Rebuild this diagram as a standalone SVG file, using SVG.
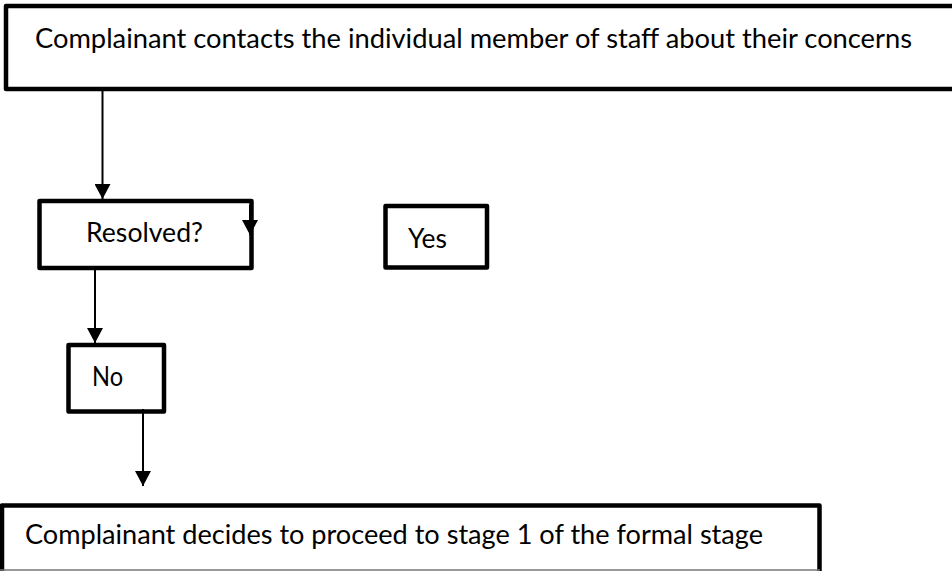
<svg xmlns="http://www.w3.org/2000/svg" width="952" height="571" viewBox="0 0 952 571">
<style>
.box{fill:#fff;stroke:#000;stroke-width:4.5;stroke-linejoin:round}
.lbl{font-family:Lato,"Open Sans","Liberation Sans",sans-serif;font-size:26px;fill:#000}
.conn{stroke:#000;stroke-width:2;fill:none}
</style>
<defs>
<marker id="ah" markerUnits="userSpaceOnUse" markerWidth="16" markerHeight="16" refX="15" refY="8" orient="auto">
<path d="M0,0 L15,8 L0,16 Z" fill="#000"/>
</marker>
</defs>
<rect width="952" height="571" fill="#fff"/>
<g id="node-contact">
<path class="box" d="M952,6 H6 V89 H952"/>
<text class="lbl" x="35" y="48" textLength="877" lengthAdjust="spacingAndGlyphs">Complainant contacts the individual member of staff about their concerns</text>
</g>
<g id="node-resolved">
<rect class="box" x="39.5" y="201" width="212" height="67"/>
<text class="lbl" x="86" y="242" textLength="117" lengthAdjust="spacingAndGlyphs">Resolved?</text>
</g>
<g id="node-yes">
<rect class="box" x="385.5" y="206" width="101.5" height="61.5"/>
<text class="lbl" x="408" y="248" textLength="39" lengthAdjust="spacingAndGlyphs">Yes</text>
</g>
<g id="node-no">
<rect class="box" x="68.5" y="345" width="95.5" height="66.5"/>
<text class="lbl" x="92" y="386" textLength="31" lengthAdjust="spacingAndGlyphs">No</text>
</g>
<g id="node-stage1">
<path class="box" d="M2,571 V505.5 H819.5 V571"/>
<line x1="0" y1="570" x2="820" y2="570" stroke="#777" stroke-width="1.5"/>
<text class="lbl" x="25" y="544" textLength="738" lengthAdjust="spacingAndGlyphs">Complainant decides to proceed to stage 1 of the formal stage</text>
</g>
<g id="connectors">
<path class="conn" d="M102.5,91 V199" marker-end="url(#ah)"/>
<path class="conn" d="M250,205 V235" marker-end="url(#ah)"/>
<path class="conn" d="M95,270 V343" marker-end="url(#ah)"/>
<path class="conn" d="M143,409 V486" marker-end="url(#ah)"/>
</g>
</svg>
